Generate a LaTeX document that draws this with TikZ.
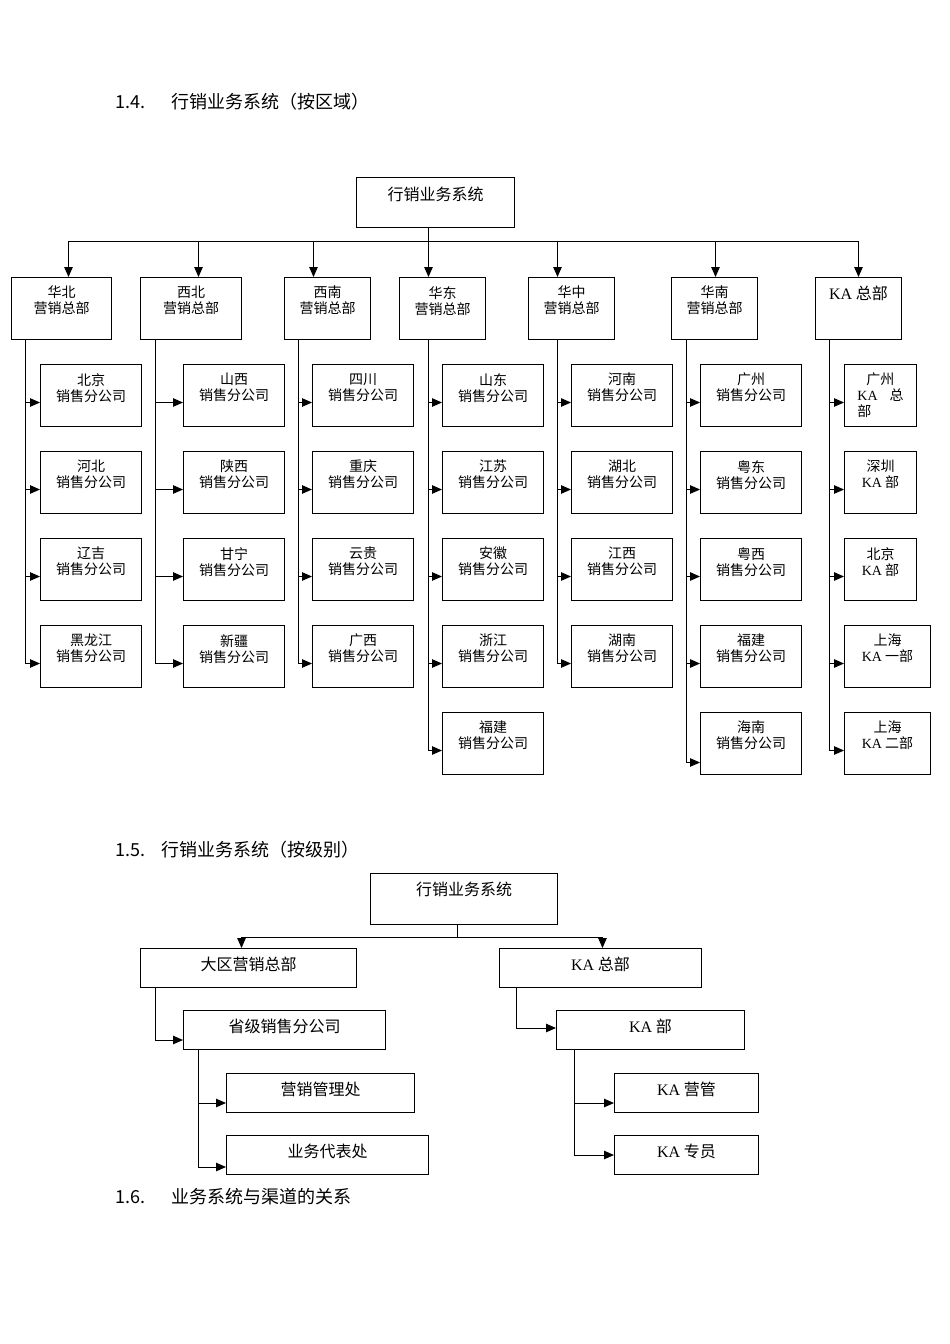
\documentclass[tikz,border=0pt]{standalone}
\usepackage{fontspec}
\setmainfont{Liberation Serif}
\newfontfamily\cjk{Noto Sans CJK SC}
\usepackage{tikz}
\usetikzlibrary{arrows.meta}

\begin{document}
\begin{tikzpicture}[x=1pt, y=-1pt,
    every node/.style={font=\cjk\fontsize{14}{16}\selectfont},
    box/.style={rectangle, draw, line width=1pt, anchor=north west, inner sep=0pt},
    cbox/.style={box, minimum width=101pt, minimum height=62pt},
    rbox/.style={box, minimum width=86pt, minimum height=62pt},
    sbox/.style={box, minimum height=39pt},
    lbl/.style={anchor=north, align=center, inner sep=0pt, yshift=-9pt},
    big/.style={font=\cjk\fontsize{16}{18}\selectfont},
    head/.style={anchor=west, font=\cjk\fontsize{18}{20}\selectfont},
    arr/.style={line width=1pt, -{Triangle[length=10pt,width=8.5pt]}}]

    \useasboundingbox (0,0) rectangle (950,1344);

    %% 1.4 by region
    \node[head] (h14) at (112,102) {\makebox[56pt][l]{1.4.}行销业务系统（按区域）};
    \node[box, minimum width=158pt, minimum height=50pt,
        label={[lbl,big,yshift=-1pt]north:行销业务系统}] (top) at (356,177) {};

    \node[box, minimum width=100pt, minimum height=62pt,
        label={[lbl]north:{华北\\营销总部}}] (hb) at (11,277) {};
    \node[cbox, label={[lbl]north:{西北\\营销总部}}] (xb) at (140,277) {};
    \node[rbox, label={[lbl]north:{西南\\营销总部}}] (xn) at (284,277) {};
    \node[rbox, label={[lbl]north:{华东\\营销总部}}] (hd) at (399,277) {};
    \node[rbox, label={[lbl]north:{华中\\营销总部}}] (hz) at (528,277) {};
    \node[rbox, label={[lbl]north:{华南\\营销总部}}] (hn) at (671,277) {};
    \node[rbox, label={[lbl,big]north:{\textrm{KA} 总部}}] (ka) at (815,277) {};

    \foreach \r/\d in {hb/7, xb/7.5, xn/-14, hd/-14, hz/-14, hn/1, ka/0}
        \draw[arr] ([xshift=-7pt]top.south) -- ++(0,13) -| ([xshift=\d pt]\r.north);

    % sales branches
    \foreach \t [count=\i from 0] in {北京, 河北, 辽吉, 黑龙江} {
        \node[cbox, label={[lbl]north:{\t\\销售分公司}}] (a\i) at (40,{364+87*\i}) {};
        \draw[arr] ([xshift=14pt]hb.south west) |- ([yshift=-7pt]a\i.west);
    }
    \foreach \t [count=\i from 0] in {山西, 陕西, 甘宁, 新疆} {
        \node[cbox, label={[lbl]north:{\t\\销售分公司}}] (b\i) at (183,{364+87*\i}) {};
        \draw[arr] ([xshift=15pt]xb.south west) |- ([yshift=-7pt]b\i.west);
    }
    \foreach \t [count=\i from 0] in {四川, 重庆, 云贵, 广西} {
        \node[cbox, label={[lbl]north:{\t\\销售分公司}}] (c\i) at (312,{364+87*\i}) {};
        \draw[arr] ([xshift=14pt]xn.south west) |- ([yshift=-7pt]c\i.west);
    }
    \foreach \t [count=\i from 0] in {山东, 江苏, 安徽, 浙江, 福建} {
        \node[cbox, label={[lbl]north:{\t\\销售分公司}}] (d\i) at (442,{364+87*\i}) {};
        \draw[arr] ([xshift=29pt]hd.south west) |- ([yshift=-7pt]d\i.west);
    }
    \foreach \t [count=\i from 0] in {河南, 湖北, 江西, 湖南} {
        \node[cbox, label={[lbl]north:{\t\\销售分公司}}] (e\i) at (571,{364+87*\i}) {};
        \draw[arr] ([xshift=29pt]hz.south west) |- ([yshift=-7pt]e\i.west);
    }
    \foreach \t/\s [count=\i from 0] in {广州/7, 粤东/7, 粤西/7, 福建/7, 海南/19} {
        \node[cbox, label={[lbl]north:{\t\\销售分公司}}] (f\i) at (700,{364+87*\i}) {};
        \draw[arr] ([xshift=15pt]hn.south west) |- ([yshift=-\s pt]f\i.west);
    }

    % KA
    \node[box, minimum width=72pt, minimum height=62pt,
        label={[lbl, align=left]north:{\hspace*{9pt}广州\\\textrm{KA}\hspace{12pt}总\\部}}] (g0) at (844,364) {};
    \node[box, minimum width=72pt, minimum height=62pt,
        label={[lbl]north:{深圳\\\textrm{KA} 部}}] (g1) at (844,451) {};
    \node[box, minimum width=72pt, minimum height=62pt,
        label={[lbl]north:{北京\\\textrm{KA} 部}}] (g2) at (844,538) {};
    \node[rbox, label={[lbl]north:{上海\\\textrm{KA} 一部}}] (g3) at (844,625) {};
    \node[rbox, label={[lbl]north:{上海\\\textrm{KA} 二部}}] (g4) at (844,712) {};
    \foreach \i in {0,...,4}
        \draw[arr] ([xshift=14pt]ka.south west) |- ([yshift=-7pt]g\i.west);

    %% 1.5 by level
    \node[head] (h15) at (112,850) {\makebox[46pt][l]{1.5.}行销业务系统（按级别）};
    \node[box, minimum width=187pt, minimum height=51pt,
        label={[lbl,big]north:行销业务系统}] (top2) at (370,873) {};

    \node[sbox, minimum width=216pt, label={[lbl,big]north:大区营销总部}] (dq) at (140,948) {};
    \node[sbox, minimum width=202pt, label={[lbl,big]north:{\textrm{KA} 总部}}] (ka2) at (499,948) {};
    \node[sbox, minimum width=202pt, label={[lbl,big]north:省级销售分公司}] (sj) at (183,1010) {};
    \node[sbox, minimum width=188pt, label={[lbl,big]north:{\textrm{KA} 部}}] (kab) at (556,1010) {};
    \node[sbox, minimum width=188pt, label={[lbl,big]north:营销管理处}] (yx) at (226,1073) {};
    \node[sbox, minimum width=202pt, label={[lbl,big]north:业务代表处}] (yw) at (226,1135) {};
    \node[sbox, minimum width=144pt, label={[lbl,big]north:{\textrm{KA} 营管}}] (kay) at (614,1073) {};
    \node[sbox, minimum width=144pt, label={[lbl,big]north:{\textrm{KA} 专员}}] (kaz) at (614,1135) {};

    \draw[arr] ([xshift=-7pt]top2.south) -- ++(0,12) -| ([xshift=-7pt]dq.north);
    \draw[arr] ([xshift=-7pt]top2.south) -- ++(0,12) -| ([xshift=2pt]ka2.north);
    \draw[arr] ([xshift=15pt]dq.south west) |- ([yshift=-10pt]sj.west);
    \draw[arr] ([xshift=17pt]ka2.south west) |- ([yshift=2pt]kab.west);
    \draw[arr] ([xshift=15pt]sj.south west) |- ([yshift=-10pt]yx.west);
    \draw[arr] ([xshift=15pt]sj.south west) |- ([yshift=-12pt]yw.west);
    \draw[arr] ([xshift=18pt]kab.south west) |- ([yshift=-10pt]kay.west);
    \draw[arr] ([xshift=18pt]kab.south west) |- (kaz.west);

    %% 1.6
    \node[head] (h16) at (112,1197) {\makebox[56pt][l]{1.6.}业务系统与渠道的关系};

\end{tikzpicture}
\end{document}
